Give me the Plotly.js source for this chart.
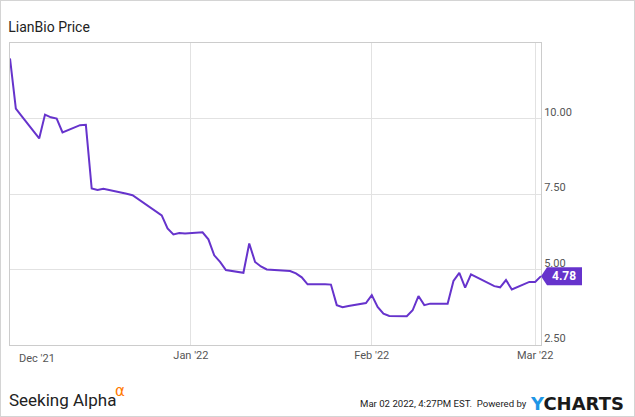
<!DOCTYPE html>
<html><head><meta charset="utf-8">
<script src="https://cdn.plot.ly/plotly-3.0.1.min.js"></script>
<style>html,body{margin:0;padding:0;background:#fff}#chart{width:635px;height:417px;box-sizing:border-box;border:1px solid #d4d4d4}</style>
</head><body><div id="chart"></div>
<script>
const chartTitle = 'LianBio Price';
const dates = [
 '2021-12-01','2021-12-02','2021-12-03','2021-12-06','2021-12-07','2021-12-08','2021-12-09','2021-12-10',
 '2021-12-13','2021-12-14','2021-12-15','2021-12-16','2021-12-17','2021-12-20','2021-12-21','2021-12-22',
 '2021-12-23','2021-12-27','2021-12-28','2021-12-29','2021-12-30','2021-12-31',
 '2022-01-03','2022-01-04','2022-01-05','2022-01-06','2022-01-07','2022-01-10','2022-01-11','2022-01-12',
 '2022-01-13','2022-01-14','2022-01-18','2022-01-19','2022-01-20','2022-01-21','2022-01-24','2022-01-25',
 '2022-01-26','2022-01-27','2022-01-28','2022-01-31',
 '2022-02-01','2022-02-02','2022-02-03','2022-02-04','2022-02-07','2022-02-08','2022-02-09','2022-02-10',
 '2022-02-11','2022-02-14','2022-02-15','2022-02-16','2022-02-17','2022-02-18','2022-02-22','2022-02-23',
 '2022-02-24','2022-02-25','2022-02-28','2022-03-01','2022-03-02'
];
const prices = [
 11.99,10.33,10.08,9.34,10.13,10.04,10.00,9.54,
 9.78,9.79,7.68,7.63,7.67,7.56,7.51,7.46,
 7.33,6.79,6.36,6.16,6.21,6.19,
 6.23,6.00,5.47,5.25,4.98,4.89,5.86,5.25,
 5.10,5.00,4.95,4.87,4.74,4.51,4.51,4.50,
 3.82,3.75,3.79,3.89,
 4.15,3.76,3.54,3.46,3.45,3.65,4.12,3.82,
 3.87,3.87,4.62,4.89,4.40,4.84,4.45,4.41,
 4.65,4.34,4.59,4.59,4.78
];
const xTickVals = ['2021-12-01','2022-01-01','2022-02-01','2022-03-01'];
const xTickText = ['', "Jan '22", "Feb '22", "Mar '22"];
const firstMonthLabel = "Dec '21";
const yTickVals = [2.5, 5, 7.5, 10];
const yTickText = yTickVals.map(v => v.toFixed(2));
const yRange = [2.5, 12.5];
const stampText = 'Mar 02 2022, 4:27PM EST.&nbsp;&nbsp;Powered by';

const purple = '#6633cc';
const font = 'Roboto, "Liberation Sans", sans-serif';
const lastDate = dates[dates.length - 1];
const lastPrice = prices[prices.length - 1];

const trace = {
  x: dates, y: prices, type: 'scatter', mode: 'lines',
  line: {color: purple, width: 2}, hoverinfo: 'skip'
};

const layout = {
  width: 633, height: 415,
  margin: {l: 9, r: 93, t: 42, b: 71},
  paper_bgcolor: '#fff', plot_bgcolor: '#fff',
  showlegend: false,
  title: {text: chartTitle, xref: 'container', yref: 'container', x: 0.0115, xanchor: 'left',
          y: 0.938, yanchor: 'middle', font: {family: font, size: 14, color: '#222'}},
  xaxis: {
    type: 'date', range: [dates[0], lastDate],
    tickvals: xTickVals, ticktext: xTickText,
    showgrid: true, gridcolor: '#e2e2e2', gridwidth: 1,
    showline: true, mirror: true, linecolor: '#cccccc', linewidth: 1,
    ticks: '', zeroline: false, fixedrange: true,
    tickfont: {family: font, size: 11, color: '#555'}
  },
  yaxis: {
    side: 'right', range: yRange,
    tickvals: yTickVals, ticktext: yTickText,
    ticklabelposition: 'outside top', ticklabelshift: 1,
    showgrid: true, gridcolor: '#e2e2e2', gridwidth: 1,
    showline: true, mirror: true, linecolor: '#cccccc', linewidth: 1,
    ticks: '', zeroline: false, fixedrange: true,
    tickfont: {family: font, size: 11, color: '#555'}
  },
  shapes: [{
    type: 'path', xref: 'paper', yref: 'y', xsizemode: 'pixel', ysizemode: 'pixel',
    xanchor: 1, yanchor: lastPrice,
    path: 'M0,0 L6,9 L41,9 L41,-9 L6,-9 Z',
    fillcolor: purple, line: {width: 0}, layer: 'above'
  }],
  annotations: [
    {xref: 'paper', yref: 'y', x: 1, y: lastPrice, xanchor: 'left', yanchor: 'middle', xshift: 9,
     text: '<b>' + lastPrice.toFixed(2) + '</b>', showarrow: false,
     font: {family: font, size: 12, color: '#fff'}},
    {xref: 'x', yref: 'paper', x: dates[0], y: 0, xanchor: 'left', yanchor: 'middle', xshift: 7, yshift: -13,
     text: firstMonthLabel, showarrow: false, font: {family: font, size: 11, color: '#555'}},
    {xref: 'paper', yref: 'paper', x: 0, y: 0, xanchor: 'left', yanchor: 'middle', xshift: -3, yshift: -55,
     text: 'Seeking Alpha', showarrow: false, font: {family: font, size: 17, color: '#222'}},
    {xref: 'paper', yref: 'paper', x: 0, y: 0, xanchor: 'left', yanchor: 'middle', xshift: 103, yshift: -46,
     text: 'α', showarrow: false, font: {family: 'DejaVu Sans, sans-serif', size: 15, color: '#ff7a00'}},
    {xref: 'paper', yref: 'paper', x: 1, y: 0, xanchor: 'right', yanchor: 'middle', xshift: -12, yshift: -58,
     text: stampText, showarrow: false, font: {family: font, size: 9.6, color: '#222'}},
    {xref: 'paper', yref: 'paper', x: 1, y: 0, xanchor: 'right', yanchor: 'middle', xshift: 85, yshift: -58,
     text: '<span style="color:#1e96e6">Y</span>CHARTS', showarrow: false,
     font: {family: 'DejaVu Sans, sans-serif', size: 18, color: '#1a1a1a', weight: 'bold'}}
  ]
};

Plotly.newPlot('chart', [trace], layout, {displayModeBar: false, staticPlot: true});
</script></body></html>
